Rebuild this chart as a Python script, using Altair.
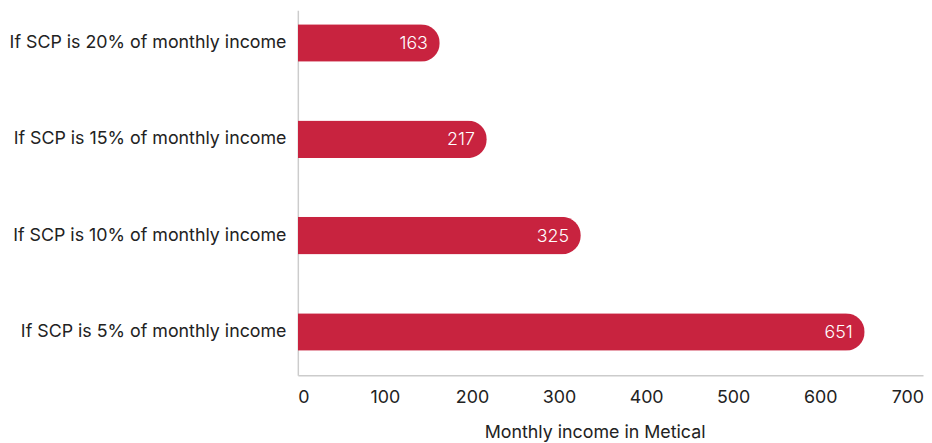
import altair as alt
import pandas as pd

categories = [
    "If SCP is 20% of monthly income",
    "If SCP is 15% of monthly income",
    "If SCP is 10% of monthly income",
    "If SCP is 5% of monthly income",
]
values = [163, 217, 325, 651]
x_ticks = [0, 100, 200, 300, 400, 500, 600, 700]

df = pd.DataFrame({"category": categories, "value": values})

FS = 18

y_enc = alt.Y(
    "category:N",
    sort=categories,
    title=None,
    scale=alt.Scale(paddingInner=0.61, paddingOuter=0.2, align=0.36),
    axis=alt.Axis(
        labelFontSize=FS,
        labelColor="#222222",
        labelFont="Inter",
        labelFontWeight=400,
        labelPadding=12,
        ticks=False,
        domainColor="#cccccc",
        domainWidth=1.5,
        labelLimit=400,
    ),
)
x_enc = alt.X(
    "value:Q",
    title="Monthly income in Metical",
    scale=alt.Scale(domain=[0, 718], nice=False),
    axis=alt.Axis(
        values=x_ticks,
        grid=False,
        ticks=False,
        labelFontSize=FS,
        labelColor="#222222",
        labelFont="Inter",
        labelFontWeight=400,
        labelPadding=13,
        titleFontSize=FS,
        titleFont="Inter",
        titleFontWeight=400,
        titleColor="#222222",
        titlePadding=18,
        titleX=300,
        domainColor="#cccccc",
        domainWidth=1.5,
    ),
)

bars = alt.Chart(df).mark_bar(color="#C8233F", cornerRadiusEnd=19).encode(x=x_enc, y=y_enc)
labels = alt.Chart(df).mark_text(
    align="right", baseline="middle", dx=-12, dy=1, color="white", fontSize=FS,
    font="Inter", fontWeight=300
).encode(x="value:Q", y=alt.Y("category:N", sort=categories), text="value:Q")

chart = (
    (bars + labels)
    .properties(width=632, height=369, padding=0, background="white")
    .configure_view(stroke=None, strokeWidth=0)
)
chart.save("out.html", embed_options={"renderer": "svg", "actions": False})
